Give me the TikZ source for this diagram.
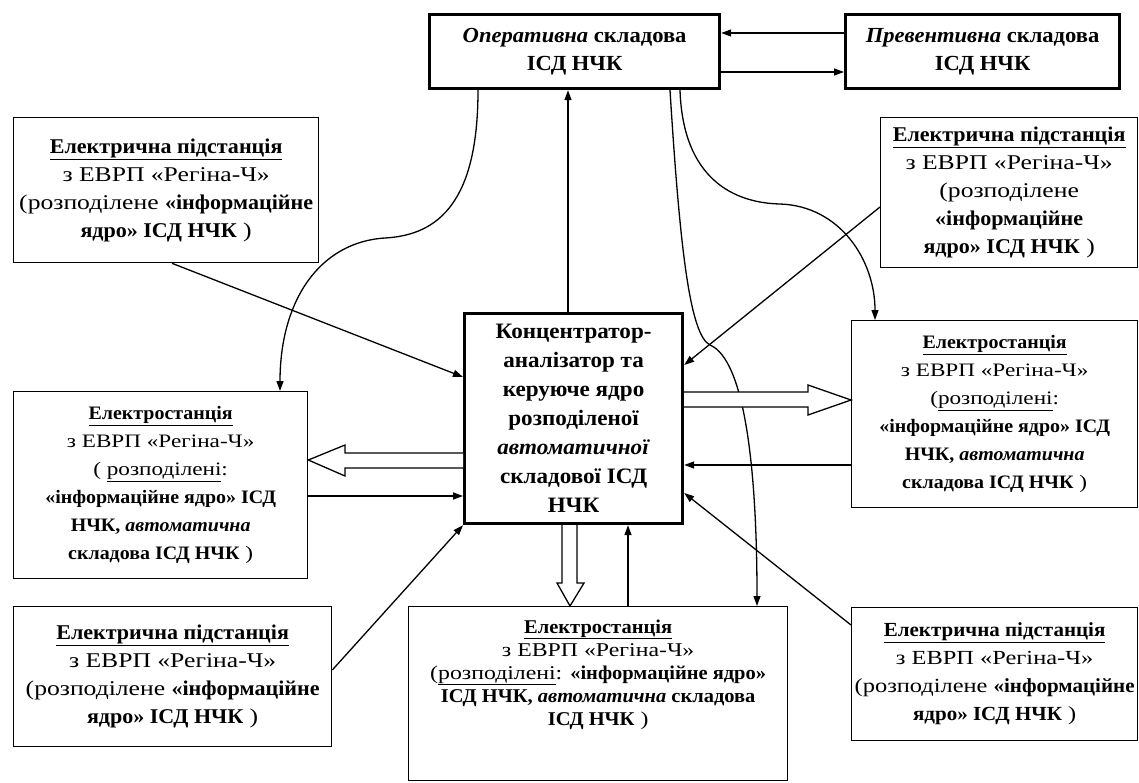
\documentclass[tikz,border=0pt]{standalone}
\usepackage{fontspec}
\setmainfont{Liberation Serif}[
    UprightFeatures={FakeStretch=1.22},
    ItalicFeatures={FakeStretch=1.05},
    BoldFeatures={FakeStretch=1.05},
    BoldItalicFeatures={FakeStretch=1.05}]
\usepackage{tikz}
\usetikzlibrary{arrows.meta}
\tikzset{
    plain-box/.style = {draw, line width=1.3pt, rectangle, align=center, inner sep=0pt, anchor=north west, font=\fontsize{21}{28}\selectfont},
    station-box/.style = {plain-box, font=\fontsize{19}{28}\selectfont},
    main-box/.style = {plain-box, line width=3.2pt, font=\fontsize{21.5}{28}\selectfont\bfseries},
    link/.style = {line width=1.3pt, -{Triangle[length=10pt,width=7pt]}},
    hollow/.style = {line width=1.3pt, fill=white},
}

\begin{document}
\begin{tikzpicture}[x=1pt,y=-1pt]
\useasboundingbox (0,0) rectangle (1139,783);
% top row
\node[main-box, minimum width=290pt, minimum height=74pt] (oper) at (428,13) {\textit{Оперативна} складова\\ІСД НЧК};
\node[main-box, minimum width=274pt, minimum height=74pt] (prev) at (844,13) {\textit{Превентивна} складова\\ІСД НЧК};
% substations
\node[plain-box, minimum width=305pt, minimum height=145pt] (sub-tl) at (13,117) {\textbf{\underline{Електрична підстанція}}\\з ЕВРП «Регіна-Ч»\\(розподілене \textbf{«інформаційне}\\\textbf{ядро» ІСД НЧК} )};
\node[plain-box, minimum width=257pt, minimum height=150pt] (sub-tr) at (880,117) {\textbf{\underline{Електрична підстанція}}\\з ЕВРП «Регіна-Ч»\\(розподілене\\\textbf{«інформаційне}\\\textbf{ядро» ІСД НЧК} )};
\node[plain-box, minimum width=318pt, minimum height=140pt] (sub-bl) at (13,606) {\textbf{\underline{Електрична підстанція}}\\з ЕВРП «Регіна-Ч»\\(розподілене \textbf{«інформаційне}\\\textbf{ядро» ІСД НЧК} )};
\node[plain-box, minimum width=286pt, minimum height=133pt, font=\fontsize{20}{28}\selectfont] (sub-br) at (851,607) {\textbf{\underline{Електрична підстанція}}\\з ЕВРП «Регіна-Ч»\\(розподілене \textbf{«інформаційне}\\\textbf{ядро» ІСД НЧК} )};
% core
\node[main-box, minimum width=218pt, minimum height=210pt, font=\fontsize{22}{29}\selectfont\bfseries] (core) at (463,312) {Концентратор-\\аналізатор та\\керуюче ядро\\розподіленої\\\textit{автоматичної}\\складової ІСД\\НЧК};
% power stations
\node[station-box, minimum width=294pt, minimum height=187pt] (st-l) at (13,391) {\textbf{\underline{Електростанція}}\\з ЕВРП «Регіна-Ч»\\( \underline{розподілені}:\\\textbf{«інформаційне ядро» ІСД}\\\textbf{НЧК, \textit{автоматична}}\\\textbf{складова ІСД НЧК} )};
\node[station-box, minimum width=286pt, minimum height=187pt] (st-r) at (851,320) {\textbf{\underline{Електростанція}}\\з ЕВРП «Регіна-Ч»\\(\underline{розподілені}:\\\textbf{«інформаційне ядро» ІСД}\\\textbf{НЧК, \textit{автоматична}}\\\textbf{складова ІСД НЧК} )};
\node[station-box, minimum width=379pt, minimum height=174pt] (st-b) at (408,606) {};
\node[align=center, anchor=north, font=\fontsize{19.5}{23}\selectfont] at ([yshift=-10pt]st-b.north) {\textbf{\underline{Електростанція}}\\з ЕВРП «Регіна-Ч»\\(\underline{розподілені}: \textbf{«інформаційне ядро»}\\\textbf{ІСД НЧК, \textit{автоматична} складова}\\\textbf{ІСД НЧК} )};

% links between the two top boxes
\draw[link] (prev.west |- 0,33) -- (oper.east |- 0,33);
\draw[link] (oper.east |- 0,72) -- (prev.west |- 0,72);
\draw[link] (core.north -| 568,0) -- (oper.south -| 568,0);
% curves from the operative box
\draw[link] (oper.south -| 478,0) .. controls (478,200) and (440,235) .. (385,238) .. controls (320,242) and (280,300) .. (st-l.north -| 280,0);
\draw[link] (oper.south -| 670,0) .. controls (680,250) and (690,335) .. (710,345) .. controls (745,360) and (757,470) .. (st-b.north -| 757,0);
\draw[link] (oper.south -| 680,0) .. controls (683,180) and (735,203) .. (780,204) .. controls (840,206) and (875,260) .. (st-r.north -| 875,0);
% substations to core
\draw[link] (sub-tl.south -| 172,0) -- (core.west |- 0,377);
\draw[link] (sub-tr.west |- 0,207) -- (core.east |- 0,365);
\draw[link] (sub-bl.east |- 0,670) -- (core.south west);
\draw[link] (sub-br.west |- 0,625) -- (core.east |- 0,493);
% stations to core
\draw[link] (st-r.west |- 0,465) -- (core.east |- 0,465);
\draw[link] (st-l.east |- 0,496) -- (core.west |- 0,496);
\draw[link] (st-b.north -| 628,0) -- (core.south -| 628,0);
% hollow arrows from core
\draw[hollow] (core.east |- 0,392) -- (808,392) -- (808,385) -- (st-r.west |- 0,400) -- (808,415) -- (808,407) -- (core.east |- 0,407);
\draw[hollow] (core.west |- 0,453) -- (345,453) -- (345,445) -- (st-l.east |- 0,460) -- (345,476) -- (345,468) -- (core.west |- 0,468);
\draw[hollow] (core.south -| 562,0) -- (562,583) -- (557,583) -- (st-b.north -| 570,0) -- (584,583) -- (577,583) -- (core.south -| 577,0);
\end{tikzpicture}
\end{document}
